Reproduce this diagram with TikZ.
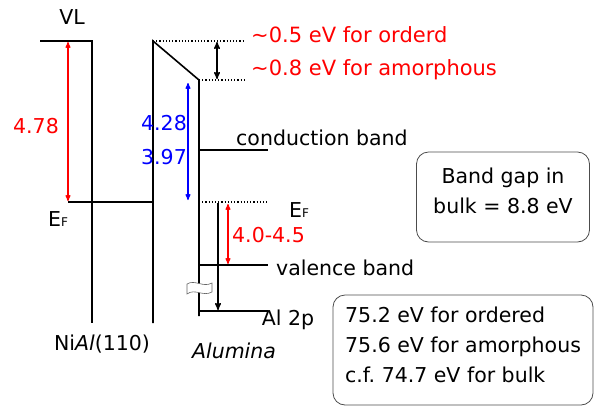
\documentclass[tikz,border=0pt]{standalone}
\usepackage{fontspec}
\setmainfont{DejaVu Sans}
\usepackage{tikz}
\usetikzlibrary{arrows}
\usetikzlibrary{positioning}

\newcommand{\fermi}{E{\fontsize{12}{12}\selectfont F}}
\frenchspacing

\begin{document}
\begin{tikzpicture}[
		x=1pt,
		y=-1pt,
		>=stealth',
		every node/.style={font=\fontsize{20.5}{24}\selectfont, inner sep=1pt},
		band line/.style={line width=1.6pt},
		level dots/.style={dotted, line width=1.2pt},
		gap arrow/.style={<->, line width=1.1pt},
		red text/.style={text=red},
		blue text/.style={text=blue},
		info box/.style={draw=black!70, line width=0.8pt, rounded corners=12pt},
		box text/.style={font=\fontsize{20.5}{30}\selectfont}
		]
		\useasboundingbox (0,0) rectangle (597,408);
		
		% NiAl side
		\coordinate (nial tl) at (40,41);
		\coordinate (nial tr) at (92,41);
		\coordinate (nial b) at (92,323);
		\coordinate (ef nial) at (68,202);
		\coordinate (ef join) at (153,202);
		
		% alumina film
		\coordinate (alu tl) at (153,41);
		\coordinate (alu bl) at (153,323);
		\coordinate (alu tr) at (199,80);
		\coordinate (alu br) at (199,316);
		\coordinate (cb l) at (199,150);
		\coordinate (cb r) at (268,150);
		\coordinate (ef l) at (199,202);
		\coordinate (ef r) at (268,202);
		\coordinate (vb l) at (199,265);
		\coordinate (vb r) at (268,265);
		\coordinate (al l) at (199,311);
		\coordinate (al r) at (268,311);
		\coordinate (dot top) at (245,41);
		\coordinate (dot low) at (245,80);
		
		% arrow ends
		\coordinate (wf top) at (68,42);
		\coordinate (wf bot) at (68,201);
		\coordinate (shift top) at (217,42);
		\coordinate (shift bot) at (217,79);
		\coordinate (ea top) at (188,83);
		\coordinate (ea bot) at (188,200);
		\coordinate (core top) at (218,203);
		\coordinate (core bot) at (218,310);
		\coordinate (vb top) at (228,204);
		\coordinate (vb bot) at (228,264);
		
		\draw[band line] (nial tl) -- (nial tr) -- (nial b);
		\draw[band line] (ef nial) -- (ef join);
		\draw[band line] (alu bl) -- (alu tl) -- (alu tr) -- (alu br);
		\draw[band line] (cb l) -- (cb r);
		\draw[band line] (vb l) -- (vb r);
		\draw[band line] (al l) -- (al r);
		\draw[level dots] (alu tl) -- (dot top);
		\draw[level dots] (alu tr) -- (dot low);
		\draw[level dots] (ef l) -- (ef r);
		
		\draw[gap arrow, red] (wf top) -- (wf bot);
		\draw[gap arrow, black, line width=1.4pt] (shift top) -- (shift bot);
		\draw[gap arrow, blue] (ea top) -- (ea bot);
		\draw[->, line width=1.4pt] (core top) -- (core bot);
		\draw[gap arrow, red] (vb top) -- (vb bot);
		
		% axis break
		\draw[fill=white, draw=black!60, line width=0.6pt]
		(187,284) .. controls (195,279) and (203,288) .. (212,283)
		-- (212,292) .. controls (203,297) and (195,288) .. (187,294) -- cycle;
		
		\node (vl) at (72,17) {VL};
		\node[red text] (wf) at (36,126) {4.78};
		\node[blue text] (ea1) at (164,123) {4.28};
		\node[blue text] (ea2) at (164,157) {3.97};
		\node (ef nial lbl) at (58,219) {\fermi};
		\node[red text, anchor=west, font=\fontsize{21}{24}\selectfont] (ordered) at (250,35) {\textasciitilde0.5 eV for orderd};
		\node[red text, anchor=west, font=\fontsize{21}{24}\selectfont] (amorph) at (250,70) {\textasciitilde0.8 eV for amorphous};
		\node[anchor=west] (cb) at (235,138) {conduction band};
		\node (ef alu lbl) at (299,210) {\fermi};
		\node[red text, anchor=west] (vbo) at (231,235) {4.0-4.5};
		\node[anchor=west] (vb) at (275,268) {valence band};
		\node (al2p) at (288,320) {Al 2p};
		\node (nial) at (102,344) {Ni\textit{Al}(110)};
		\node (alumina) at (234,351) {\textit{Alumina}};
		
		% info boxes
		\node[info box, minimum width=173pt, minimum height=90pt] (gap) at (503,197) {};
		\node[box text, align=center] (gap text) at (503,191) {Band gap in\\bulk = 8.8 eV};
		\node[info box, minimum width=260pt, minimum height=110pt] (core) at (463,350) {};
		\node[box text, align=left, anchor=west] (core text) at (344,345)
		{75.2 eV for ordered\\75.6 eV for amorphous\\c.f. 74.7 eV for bulk};
	\end{tikzpicture}
\end{document}
